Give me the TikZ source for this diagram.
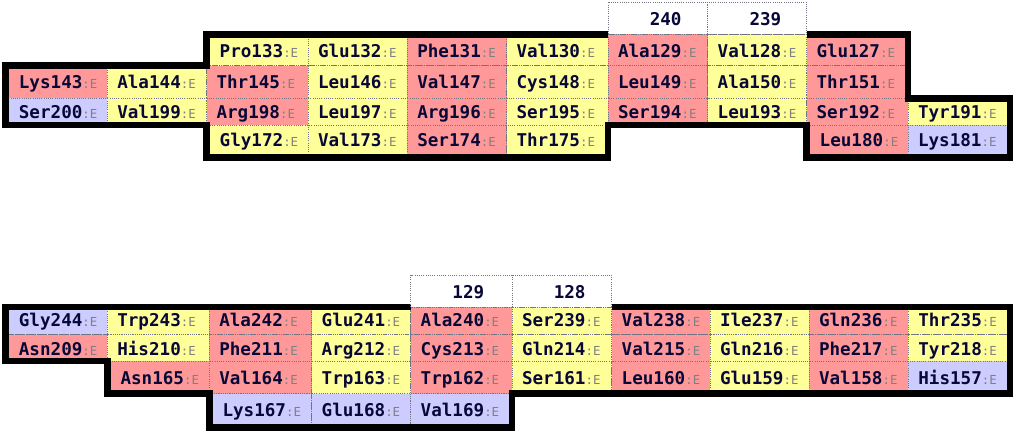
\documentclass[tikz,border=0pt]{standalone}
\usepackage{fontspec}
\setmonofont{DejaVu Sans Mono}
\definecolor{resred}{RGB}{255,153,153}
\definecolor{resyellow}{RGB}{255,255,153}
\definecolor{resblue}{RGB}{204,204,255}
\definecolor{resnavy}{RGB}{8,8,56}
\definecolor{chaingray}{RGB}{128,128,128}
\definecolor{gridgray}{RGB}{115,115,130}

\begin{document}
\begin{tikzpicture}[
    % Global Styles
    x=1pt, y=-1pt,
    % Cell Styles
    cellbox/.style={
        draw=gridgray, 
        line width=0.8pt, 
        dash pattern=on 1pt off 1.2pt
    },
    headbox/.style={
        cellbox, 
        fill=white
    },
    restext/.style={
        anchor=base west, 
        inner sep=0pt, 
        text=resnavy, 
        font=\ttfamily\bfseries\fontsize{17.6}{20}\selectfont
    },
    sheetline/.style={
        draw=black, 
        line width=6.7pt, 
        line join=miter
    }
]
    \useasboundingbox (0,0) rectangle (1016,432);

    % --- Upper sheet: row 1 ---
    \foreach \xa/\xb/\cc/\lab/\pd in {206.5/308/resyellow/Pro133/13, 308/407.3/resyellow/Glu132/9.8,
        407.3/506.5/resred/Phe131/9.8, 506.5/608/resyellow/Val130/9.8, 608/707.7/resred/Ala129/9.8,
        707.7/806.5/resyellow/Val128/9.8, 806.5/908/resred/Glu127/9.8}{
        \draw[cellbox, fill=\cc] (\xa,34.3) rectangle (\xb,65.7);
        \node[restext] (\lab) at (\xa+\pd,57.7) {\lab{\fontsize{12.4}{13}\selectfont\mdseries\color{chaingray}:E}};
    }

    % --- Upper sheet: row 2 ---
    \foreach \xa/\xb/\cc/\lab/\pd in {5.7/107.3/resred/Lys143/13, 107.3/206.5/resyellow/Ala144/9.8,
        206.5/308/resred/Thr145/9.8, 308/407.3/resyellow/Leu146/9.8, 407.3/506.5/resred/Val147/9.8,
        506.5/608/resyellow/Cys148/9.8, 608/707.7/resred/Leu149/9.8, 707.7/806.5/resyellow/Ala150/9.8,
        806.5/908/resred/Thr151/9.8}{
        \draw[cellbox, fill=\cc] (\xa,65.7) rectangle (\xb,98.3);
        \node[restext] (\lab) at (\xa+\pd,88.3) {\lab{\fontsize{12.4}{13}\selectfont\mdseries\color{chaingray}:E}};
    }

    % --- Upper sheet: row 3 ---
    \foreach \xa/\xb/\cc/\lab/\pd in {5.7/107.3/resblue/Ser200/13, 107.3/206.5/resyellow/Val199/9.8,
        206.5/308/resred/Arg198/9.8, 308/407.3/resyellow/Leu197/9.8, 407.3/506.5/resred/Arg196/9.8,
        506.5/608/resyellow/Ser195/9.8, 608/707.7/resred/Ser194/9.8, 707.7/806.5/resyellow/Leu193/9.8,
        806.5/908/resred/Ser192/9.8, 908/1010/resyellow/Tyr191/9.8}{
        \draw[cellbox, fill=\cc] (\xa,98.3) rectangle (\xb,125);
        \node[restext] (\lab) at (\xa+\pd,118.3) {\lab{\fontsize{12.4}{13}\selectfont\mdseries\color{chaingray}:E}};
    }

    % --- Upper sheet: row 4 ---
    \foreach \xa/\xb/\cc/\lab/\pd in {206.5/308/resyellow/Gly172/13, 308/407.3/resyellow/Val173/9.8,
        407.3/506.5/resred/Ser174/9.8, 506.5/608/resyellow/Thr175/9.8,
        806.5/908/resred/Leu180/13, 908/1010/resblue/Lys181/9.8}{
        \draw[cellbox, fill=\cc] (\xa,125) rectangle (\xb,157.7);
        \node[restext] (\lab) at (\xa+\pd,146.7) {\lab{\fontsize{12.4}{13}\selectfont\mdseries\color{chaingray}:E}};
    }

    % --- Upper sheet: outline and pairing header ---
    \draw[sheetline] (806.5,34.3) -- (908,34.3) -- (908,98.3) -- (1010,98.3) -- (1010,157.7)
        -- (806.5,157.7) -- (806.5,125) -- (608,125) -- (608,157.7) -- (206.5,157.7) -- (206.5,125)
        -- (5.7,125) -- (5.7,65.7) -- (206.5,65.7) -- (206.5,34.3) -- (608,34.3);
    \draw[headbox] (608,2.3) rectangle (707.7,34.3);
    \node[restext] (h240) at (608+9.8,25) {\hphantom{Ala}240};
    \draw[headbox] (707.7,2.3) rectangle (806.5,34.3);
    \node[restext] (h239) at (707.7+9.8,25) {\hphantom{Val}239};

    % --- Lower sheet: row 1 ---
    \foreach \xa/\xb/\cc/\lab/\pd in {5.7/107.3/resblue/Gly244/13, 107.3/209.3/resyellow/Trp243/9.8,
        209.3/311.7/resred/Ala242/9.8, 311.7/410.7/resyellow/Glu241/9.8, 410.7/512/resred/Ala240/9.8,
        512/611.7/resyellow/Ser239/9.8, 611.7/710/resred/Val238/9.8, 710/809/resyellow/Ile237/9.8,
        809/908.3/resred/Gln236/9.8, 908.3/1010/resyellow/Thr235/9.8}{
        \draw[cellbox, fill=\cc] (\xa,307) rectangle (\xb,334.5);
        \node[restext] (\lab) at (\xa+\pd,326) {\lab{\fontsize{12.4}{13}\selectfont\mdseries\color{chaingray}:E}};
    }

    % --- Lower sheet: row 2 ---
    \foreach \xa/\xb/\cc/\lab/\pd in {5.7/107.3/resred/Asn209/13, 107.3/209.3/resyellow/His210/9.8,
        209.3/311.7/resred/Phe211/9.8, 311.7/410.7/resyellow/Arg212/9.8, 410.7/512/resred/Cys213/9.8,
        512/611.7/resyellow/Gln214/9.8, 611.7/710/resred/Val215/9.8, 710/809/resyellow/Gln216/9.8,
        809/908.3/resred/Phe217/9.8, 908.3/1010/resyellow/Tyr218/9.8}{
        \draw[cellbox, fill=\cc] (\xa,334.5) rectangle (\xb,361);
        \node[restext] (\lab) at (\xa+\pd,355) {\lab{\fontsize{12.4}{13}\selectfont\mdseries\color{chaingray}:E}};
    }

    % --- Lower sheet: row 3 ---
    \foreach \xa/\xb/\cc/\lab/\pd in {107.3/209.3/resred/Asn165/13, 209.3/311.7/resred/Val164/9.8,
        311.7/410.7/resyellow/Trp163/9.8, 410.7/512/resred/Trp162/9.8, 512/611.7/resyellow/Ser161/9.8,
        611.7/710/resred/Leu160/9.8, 710/809/resyellow/Glu159/9.8, 809/908.3/resred/Val158/9.8,
        908.3/1010/resblue/His157/9.8}{
        \draw[cellbox, fill=\cc] (\xa,361) rectangle (\xb,393.7);
        \node[restext] (\lab) at (\xa+\pd,384.5) {\lab{\fontsize{12.4}{13}\selectfont\mdseries\color{chaingray}:E}};
    }

    % --- Lower sheet: row 4 ---
    \foreach \xa/\xb/\cc/\lab/\pd in {209.3/311.7/resblue/Lys167/13, 311.7/410.7/resblue/Glu168/9.8,
        410.7/512/resblue/Val169/9.8}{
        \draw[cellbox, fill=\cc] (\xa,393.7) rectangle (\xb,427.3);
        \node[restext] (\lab) at (\xa+\pd,416.5) {\lab{\fontsize{12.4}{13}\selectfont\mdseries\color{chaingray}:E}};
    }

    % --- Lower sheet: outline and pairing header ---
    \draw[sheetline] (611.7,307) -- (1010,307) -- (1010,393.7) -- (512,393.7) -- (512,427.3)
        -- (209.3,427.3) -- (209.3,393.7) -- (107.3,393.7) -- (107.3,361) -- (5.7,361)
        -- (5.7,307) -- (410.7,307);
    \draw[headbox] (410.7,275) rectangle (512,307);
    \node[restext] (h129) at (410.7+9.8,298.3) {\hphantom{Ala}129};
    \draw[headbox] (512,275) rectangle (611.7,307);
    \node[restext] (h128) at (512+9.8,298.3) {\hphantom{Ser}128};

\end{tikzpicture}
\end{document}
